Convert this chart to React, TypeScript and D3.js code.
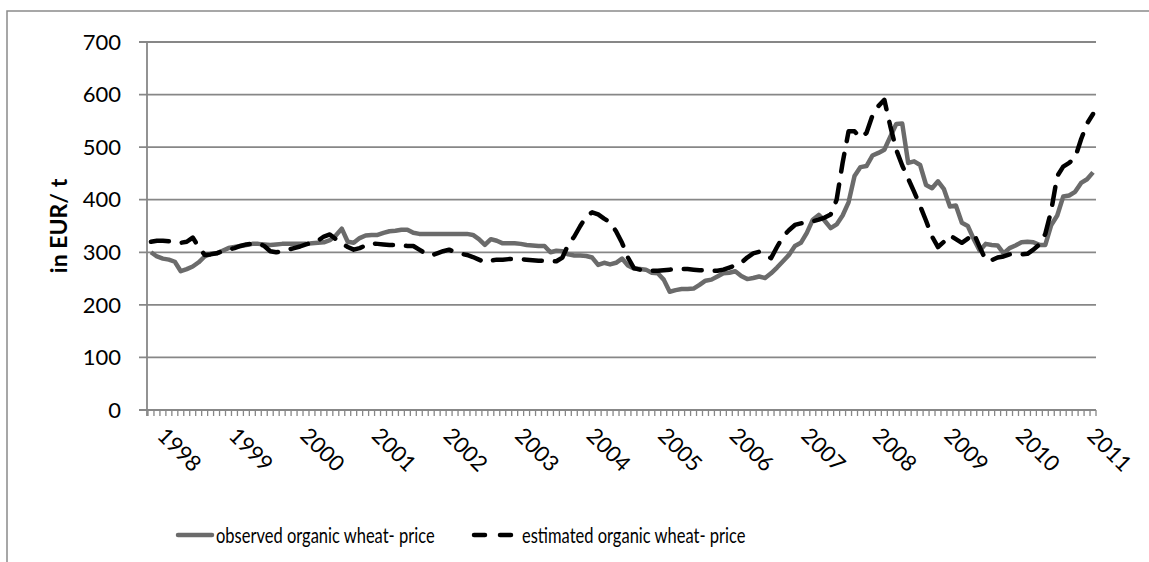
import React from 'react';
import { scaleBand, scaleLinear, line, range } from 'd3';

// monthly, Jan 1998 .. Mar 2011
const years = range(1998, 2012);
const months = range(0, 159);

// EUR/t
const observed = [
  300, 292, 288, 286, 282, 264, 268, 273, 281, 292, 297, 298,
  303, 308, 310, 312, 314, 316, 316, 315, 314, 315, 316, 316,
  316, 316, 316, 317, 318, 319, 323, 332, 345, 320, 318, 327,
  332, 333, 333, 337, 340, 341, 343, 343, 337, 335, 335, 335,
  335, 335, 335, 335, 335, 335, 333, 325, 314, 325, 322, 317,
  317, 317, 316, 314, 313, 312, 312, 300, 303, 302, 296, 294,
  294, 293, 290, 276, 280, 277, 280, 288, 275, 269, 268, 267,
  261, 260, 248, 225, 228, 230, 230, 231, 238, 246, 248, 254,
  260, 261, 264, 255, 249, 251, 254, 251, 260, 271, 283, 295,
  312, 318, 337, 362, 371, 360, 346, 353, 370, 395, 445, 462,
  464, 484, 489, 495, 520, 544, 545, 470, 473, 466, 428, 422,
  435, 420, 387, 389, 356, 350, 325, 303, 316, 314, 313, 298,
  308, 313, 319, 320, 319, 314, 314, 352, 370, 406, 408, 415,
  432, 439, 452
];

const estimated = [
  320, 322, 322, 321, 320, 318, 320, 328, 310, 295, 296, 298,
  302, 305, 308, 312, 315, 316, 317, 312, 302, 300, 302, 305,
  308, 311, 315, 318, 322, 330, 334, 325, 317, 310, 305, 308,
  313, 317, 316, 315, 314, 314, 313, 312, 312, 305, 298, 294,
  298, 302, 305, 300, 297, 295, 291, 286, 281, 284, 286, 286,
  287, 287, 287, 286, 285, 284, 284, 283, 283, 290, 315, 330,
  350, 368, 376, 372, 364, 357, 340, 318, 290, 270, 267, 266,
  265, 265, 266, 267, 268, 268, 268, 267, 266, 265, 265, 265,
  267, 271, 275, 280, 290, 298, 301, 294, 289, 310, 330, 342,
  352, 355, 357, 359, 362, 366, 372, 400, 470, 530, 530, 518,
  527, 560, 578, 590, 540, 495, 465, 440, 415, 388, 360, 330,
  310, 320, 332, 325, 318, 326, 336, 310, 285, 285, 290, 292,
  296, 297, 296, 297, 305, 315, 335, 380, 445, 463, 470, 480,
  515, 545, 563
];

const yTicks = [0, 100, 200, 300, 400, 500, 600, 700];
const seriesNames = ['observed organic wheat- price', 'estimated organic wheat- price'];

const W = 1149;
const H = 562;
const left = 148;
const right = 1096;
const top = 42;
const bottom = 410;
const gridColor = '#878787';
const obsColor = '#6b6b6b';
const font = 'Lato, "Open Sans", sans-serif';
const legendY = 535;

export default function App() {
  const x = scaleBand<number>().domain(months).range([left, right]).paddingInner(0).paddingOuter(0);
  const y = scaleLinear().domain([0, 700]).range([bottom, top]);
  const cx = (i: number) => (x(i) as number) + x.bandwidth() / 2;

  const gen = line<number>()
    .x((_, i) => cx(i))
    .y(d => y(d));

  const tickXs = range(0, months.length + 1).map(k => left + k * x.bandwidth());

  return (
    <svg width={W} height={H} style={{ position: 'absolute', left: 0, top: 0, background: '#fff' }}>
      <rect x={7} y={11} width={W + 10} height={H + 10} fill="#fff" stroke="#8a8a8a" strokeWidth={1.5} />

      {/* gridlines + y labels */}
      {yTicks.map(t => (
        <g key={t}>
          <line x1={left - 9} x2={right} y1={y(t)} y2={y(t)} stroke={gridColor} strokeWidth={1.8} />
          <text x={121} y={y(t)} dy="0.35em" textAnchor="end" fontFamily={font} fontSize={22} fill="#000">
            {t}
          </text>
        </g>
      ))}
      <line x1={left - 1} x2={left - 1} y1={top} y2={bottom + 6} stroke={gridColor} strokeWidth={1.8} />

      {/* x ticks between months */}
      {tickXs.map((tx, k) => (
        <line key={k} x1={tx} x2={tx} y1={bottom} y2={bottom + 6} stroke={gridColor} strokeWidth={1.3} />
      ))}
      {years.map((yr, k) => {
        const px = cx(k * 12) + 5;
        const py = bottom + 27;
        return (
          <text key={yr} x={px} y={py} transform={`rotate(45 ${px} ${py})`} fontFamily={font} fontSize={22} fill="#000">
            {yr}
          </text>
        );
      })}

      <text
        transform={`translate(67 226) rotate(-90)`}
        textAnchor="middle"
        fontFamily={font}
        fontSize={23}
        fontWeight="bold"
        fill="#000"
      >
        in EUR/ t
      </text>

      <path d={gen(observed) || ''} fill="none" stroke={obsColor} strokeWidth={4.5} strokeLinejoin="round" />
      <path
        d={gen(estimated) || ''}
        fill="none"
        stroke="#000"
        strokeWidth={4.5}
        strokeDasharray="18 13"
        strokeLinecap="round"
        strokeLinejoin="round"
      />

      {/* legend */}
      <line x1={178} x2={212} y1={legendY} y2={legendY} stroke={obsColor} strokeWidth={4.5} strokeLinecap="round" />
      <text
        transform={`translate(216 ${legendY}) scale(0.75 1)`}
        dy="0.35em"
        fontFamily={font}
        fontSize={22}
        fill="#000"
      >
        {seriesNames[0]}
      </text>
      <line
        x1={474}
        x2={511}
        y1={legendY}
        y2={legendY}
        stroke="#000"
        strokeWidth={4.5}
        strokeDasharray="11 15"
        strokeLinecap="round"
      />
      <text
        transform={`translate(522 ${legendY}) scale(0.75 1)`}
        dy="0.35em"
        fontFamily={font}
        fontSize={22}
        fill="#000"
      >
        {seriesNames[1]}
      </text>
    </svg>
  );
}
